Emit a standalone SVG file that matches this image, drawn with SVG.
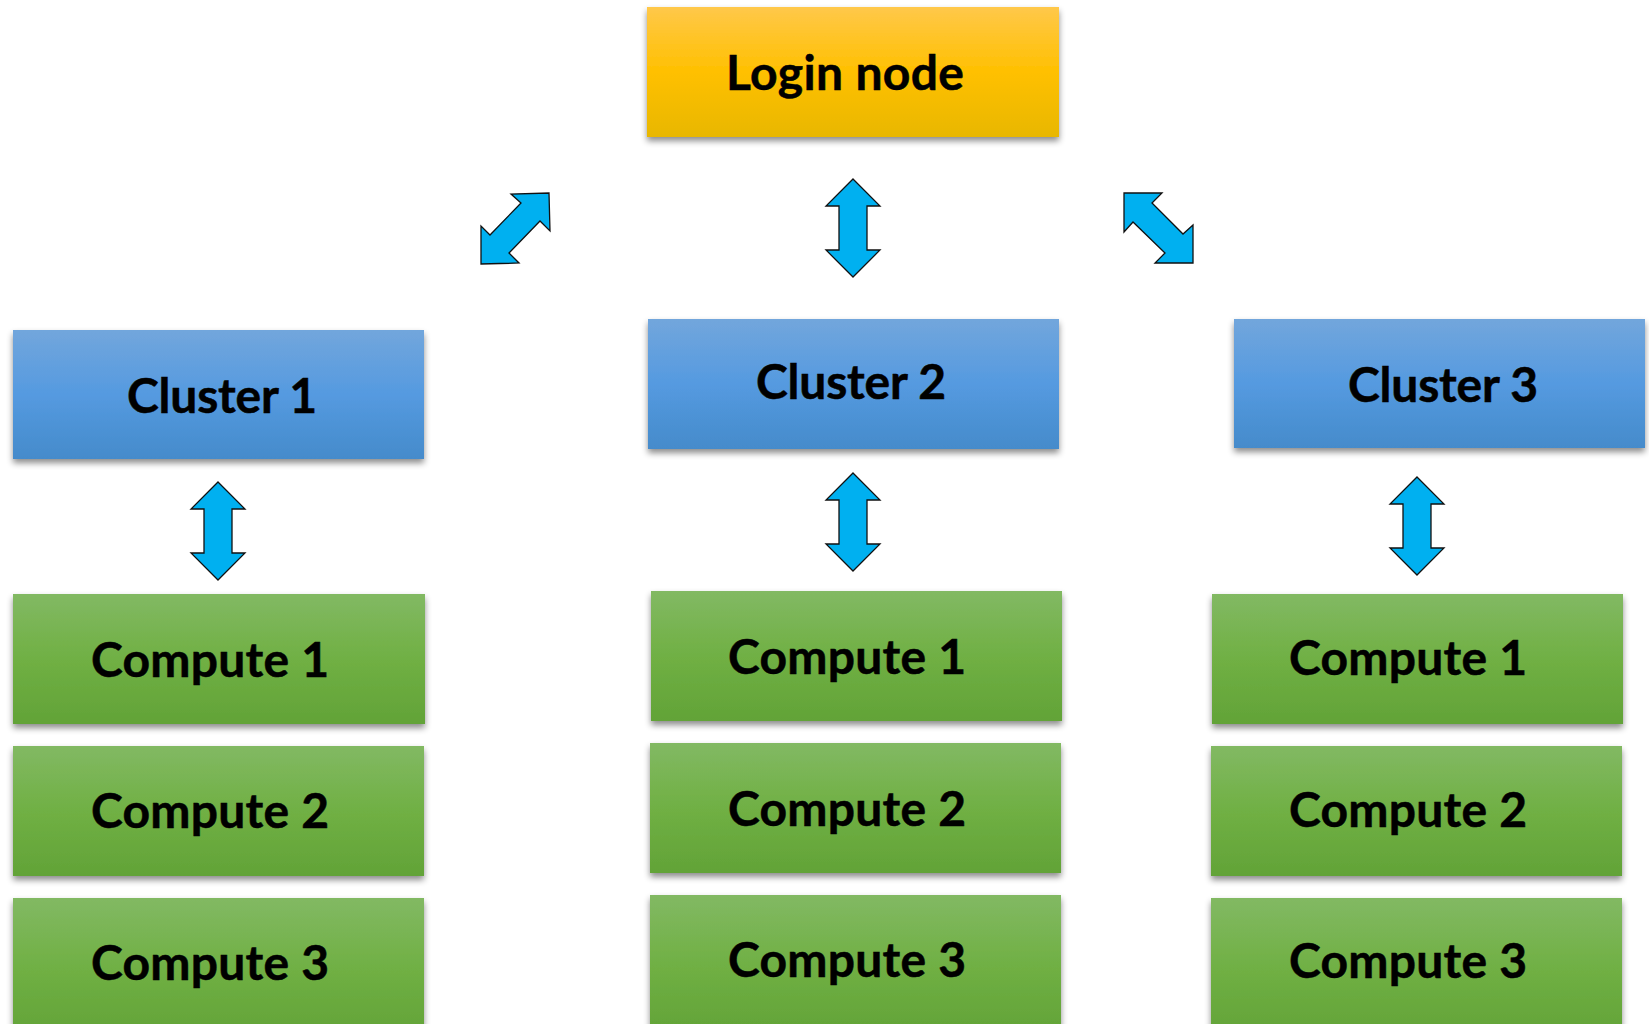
<svg xmlns="http://www.w3.org/2000/svg" xmlns:xlink="http://www.w3.org/1999/xlink" width="1649" height="1024" viewBox="0 0 1649 1024">
  <defs>
    <linearGradient id="gGold" x1="0" y1="0" x2="0" y2="1">
      <stop offset="0" stop-color="#FFC84A"/>
      <stop offset="0.5" stop-color="#FFC000"/>
      <stop offset="1" stop-color="#E8B700"/>
    </linearGradient>
    <linearGradient id="gBlue" x1="0" y1="0" x2="0" y2="1">
      <stop offset="0" stop-color="#72A6DC"/>
      <stop offset="0.5" stop-color="#559AE0"/>
      <stop offset="1" stop-color="#458BCB"/>
    </linearGradient>
    <linearGradient id="gGreen" x1="0" y1="0" x2="0" y2="1">
      <stop offset="0" stop-color="#82B963"/>
      <stop offset="0.5" stop-color="#70B044"/>
      <stop offset="1" stop-color="#62A337"/>
    </linearGradient>
    <filter id="shadow" x="-5%" y="-10%" width="110%" height="130%">
      <feDropShadow dx="0" dy="4" stdDeviation="3" flood-color="#000" flood-opacity="0.45"/>
    </filter>
    <!-- double-headed vertical arrow, tip at origin -->
    <path id="vArrow" d="M0,0 L27,27 L14,27 L14,71 L27,71 L0,98 L-27,71 L-14,71 L-14,27 L-27,27 Z"/>
  </defs>
  <style>
    .gold { fill: url(#gGold); filter: url(#shadow); }
    .blue { fill: url(#gBlue); filter: url(#shadow); }
    .green { fill: url(#gGreen); filter: url(#shadow); }
    .lbl { font-family: Lato, "Open Sans", "Liberation Sans", sans-serif; font-weight: bold; font-size: 48px; fill: #000; stroke: #000; stroke-width: 0.5; text-anchor: middle; }
    .arrow { fill: #00B0F0; stroke: #111; stroke-width: 1.3; stroke-linejoin: miter; }
  </style>
  <rect width="1649" height="1024" fill="#FFFFFF"/>

  <!-- links -->
  <g id="connectors">
    <polygon class="arrow" points="549,193 550,231 540,221 509,253 519,263 481,264 481,226 490,235 521,203 511,194"/>
    <use class="arrow" xlink:href="#vArrow" transform="translate(853,179)"/>
    <polygon class="arrow" points="1124,193 1162,193 1152,203 1183,234 1193,225 1193,263 1155,263 1165,253 1133,222 1124,232"/>
    <use class="arrow" xlink:href="#vArrow" transform="translate(218,482)"/>
    <use class="arrow" xlink:href="#vArrow" transform="translate(853,473)"/>
    <use class="arrow" xlink:href="#vArrow" transform="translate(1417,477)"/>
  </g>

  <g id="login">
    <rect class="gold" x="647" y="7" width="412" height="130"/>
    <text class="lbl" x="845" y="90" textLength="238">Login node</text>
  </g>

  <g id="cluster1">
    <rect class="blue" x="13" y="330" width="411" height="129"/>
    <text class="lbl" x="222" y="413" textLength="190">Cluster 1</text>
  </g>
  <g id="cluster2">
    <rect class="blue" x="648" y="319" width="411" height="130"/>
    <text class="lbl" x="851" y="399" textLength="190">Cluster 2</text>
  </g>
  <g id="cluster3">
    <rect class="blue" x="1234" y="319" width="411" height="129"/>
    <text class="lbl" x="1443" y="402" textLength="190">Cluster 3</text>
  </g>

  <g id="c1-compute1">
    <rect class="green" x="13" y="594" width="412" height="130"/>
    <text class="lbl" x="210" y="677" textLength="238">Compute 1</text>
  </g>
  <g id="c1-compute2">
    <rect class="green" x="13" y="746" width="411" height="130"/>
    <text class="lbl" x="210" y="828" textLength="238">Compute 2</text>
  </g>
  <g id="c1-compute3">
    <rect class="green" x="13" y="898" width="411" height="140"/>
    <text class="lbl" x="210" y="980" textLength="238">Compute 3</text>
  </g>

  <g id="c2-compute1">
    <rect class="green" x="651" y="591" width="411" height="130"/>
    <text class="lbl" x="847" y="674" textLength="238">Compute 1</text>
  </g>
  <g id="c2-compute2">
    <rect class="green" x="650" y="743" width="411" height="130"/>
    <text class="lbl" x="847" y="826" textLength="238">Compute 2</text>
  </g>
  <g id="c2-compute3">
    <rect class="green" x="650" y="895" width="411" height="140"/>
    <text class="lbl" x="847" y="977" textLength="238">Compute 3</text>
  </g>

  <g id="c3-compute1">
    <rect class="green" x="1212" y="594" width="411" height="130"/>
    <text class="lbl" x="1408" y="675" textLength="238">Compute 1</text>
  </g>
  <g id="c3-compute2">
    <rect class="green" x="1211" y="746" width="411" height="130"/>
    <text class="lbl" x="1408" y="827" textLength="238">Compute 2</text>
  </g>
  <g id="c3-compute3">
    <rect class="green" x="1211" y="898" width="411" height="140"/>
    <text class="lbl" x="1408" y="978" textLength="238">Compute 3</text>
  </g>
</svg>
